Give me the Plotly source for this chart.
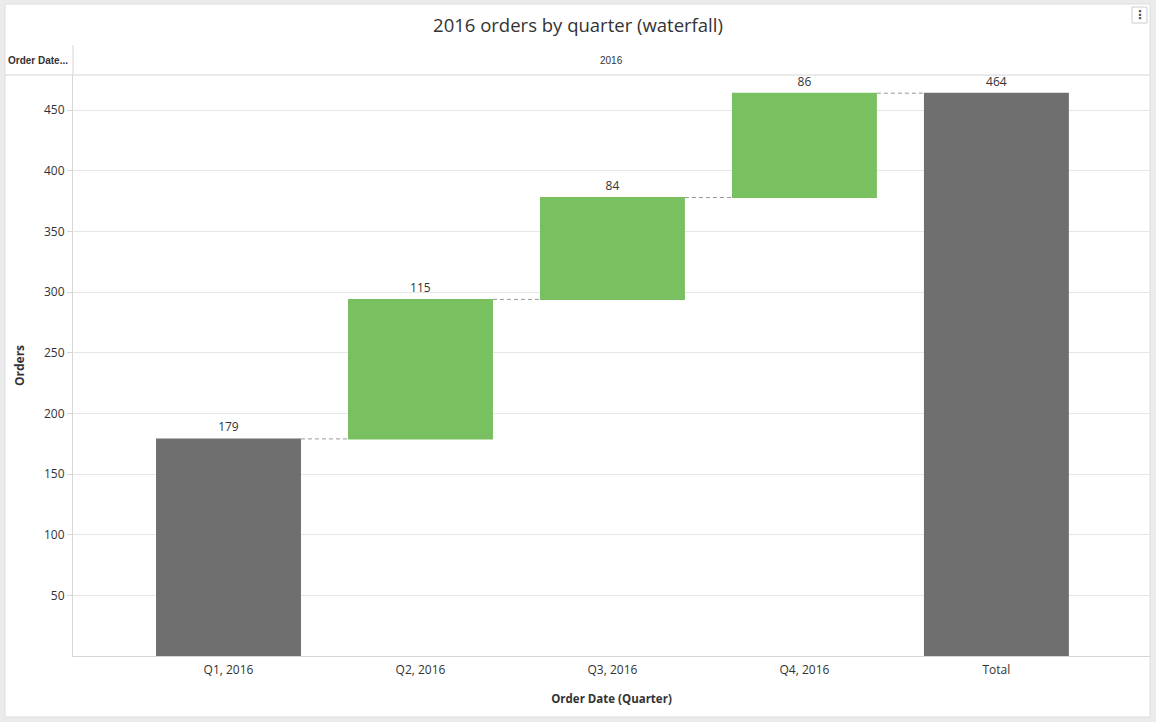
import plotly.graph_objects as go

categories = ["Q1, 2016", "Q2, 2016", "Q3, 2016", "Q4, 2016", "Total"]
measures = ["absolute", "relative", "relative", "relative", "total"]
values = [179, 115, 84, 86, 0]
labels = ["179", "115", "84", "86", "464"]

W, H = 1156, 722
ML, MR, MT, MB = 73, 6, 75, 66
PW, PH = W - ML - MR, H - MT - MB


def px_x(x):
    return (x - ML) / PW


def px_y(y):
    return (H - MB - y) / PH


GRAY = "#6f6f6f"
GREEN = "#79c061"
TXT = "#333333"
FONT = "Open Sans"

fig = go.Figure(
    go.Waterfall(
        x=categories,
        y=values,
        measure=measures,
        text=labels,
        textposition="outside",
        textfont=dict(family=FONT, size=12, color=TXT),
        cliponaxis=False,
        width=0.755,
        increasing=dict(marker=dict(color=GREEN)),
        decreasing=dict(marker=dict(color="#e05c5c")),
        totals=dict(marker=dict(color=GRAY)),
        connector=dict(mode="between", line=dict(color="#999999", width=1, dash="4px,3px")),
        hoverinfo="skip",
        showlegend=False,
    )
)

shapes = [
    # card
    dict(type="rect", xref="paper", yref="paper",
         x0=px_x(5), x1=px_x(1150), y0=px_y(717), y1=px_y(4),
         fillcolor="white", line=dict(color="#dedede", width=1), layer="below"),
    # header bottom line
    dict(type="line", xref="paper", yref="paper",
         x0=px_x(5), x1=px_x(1150), y0=px_y(75), y1=px_y(75),
         line=dict(color="#d6d6d6", width=1)),
    # header vertical separator
    dict(type="line", xref="paper", yref="paper",
         x0=px_x(73), x1=px_x(73), y0=px_y(75), y1=px_y(45),
         line=dict(color="#d6d6d6", width=1)),
    # menu button box
    dict(type="rect", xref="paper", yref="paper",
         x0=px_x(1132), x1=px_x(1147), y0=px_y(23), y1=px_y(7),
         fillcolor="white", line=dict(color="#cccccc", width=1)),
]

annotations = [
    dict(text="<b>Order Date...</b>", xref="paper", yref="paper", x=px_x(6), y=px_y(60),
         xanchor="left", yanchor="middle", showarrow=False,
         font=dict(family="Liberation Sans", size=10, color=TXT)),
    dict(text="2016", xref="paper", yref="paper", x=px_x(611), y=px_y(60),
         xanchor="center", yanchor="middle", showarrow=False,
         font=dict(family="Liberation Sans", size=10, color=TXT)),
    dict(text="<b>⋮</b>", xref="paper", yref="paper", x=px_x(1139.5), y=px_y(15),
         xanchor="center", yanchor="middle", showarrow=False,
         font=dict(family="DejaVu Sans", size=12, color="#555")),
]

fig.update_layout(
    width=W, height=H,
    margin=dict(l=ML, r=MR, t=MT, b=MB),
    paper_bgcolor="#ebebeb",
    plot_bgcolor="white",
    title=dict(text="2016 orders by quarter (waterfall)", x=0.5, xref="container",
               xanchor="center", y=1 - 25.5 / H, yanchor="middle",
               font=dict(family=FONT, size=18.5, color=TXT)),
    font=dict(family=FONT, color=TXT),
    shapes=shapes,
    annotations=annotations,
    xaxis=dict(
        range=[-0.81, 4.8],
        showgrid=False,
        showline=True, linecolor="#d6d6d6", linewidth=1,
        ticks="", ticklabelstandoff=3,
        tickfont=dict(family=FONT, size=12, color=TXT),
        title=dict(text="<b>Order Date (Quarter)</b>", standoff=17,
                   font=dict(family=FONT, size=11.5, color=TXT)),
        fixedrange=True,
    ),
    yaxis=dict(
        range=[0, 479],
        tickvals=[50, 100, 150, 200, 250, 300, 350, 400, 450],
        showgrid=True, gridcolor="#e6e6e6", gridwidth=1,
        zeroline=False,
        showline=True, linecolor="#d6d6d6", linewidth=1,
        ticks="outside", ticklen=5, tickcolor="#d6d6d6",
        tickfont=dict(family=FONT, size=12, color=TXT),
        title=dict(text="<b>Orders</b>", standoff=16,
                   font=dict(family=FONT, size=12, color=TXT)),
        fixedrange=True,
    ),
)

fig.write_html("out.html", config={"displayModeBar": False},
               post_script="document.body.style.margin='0';")
